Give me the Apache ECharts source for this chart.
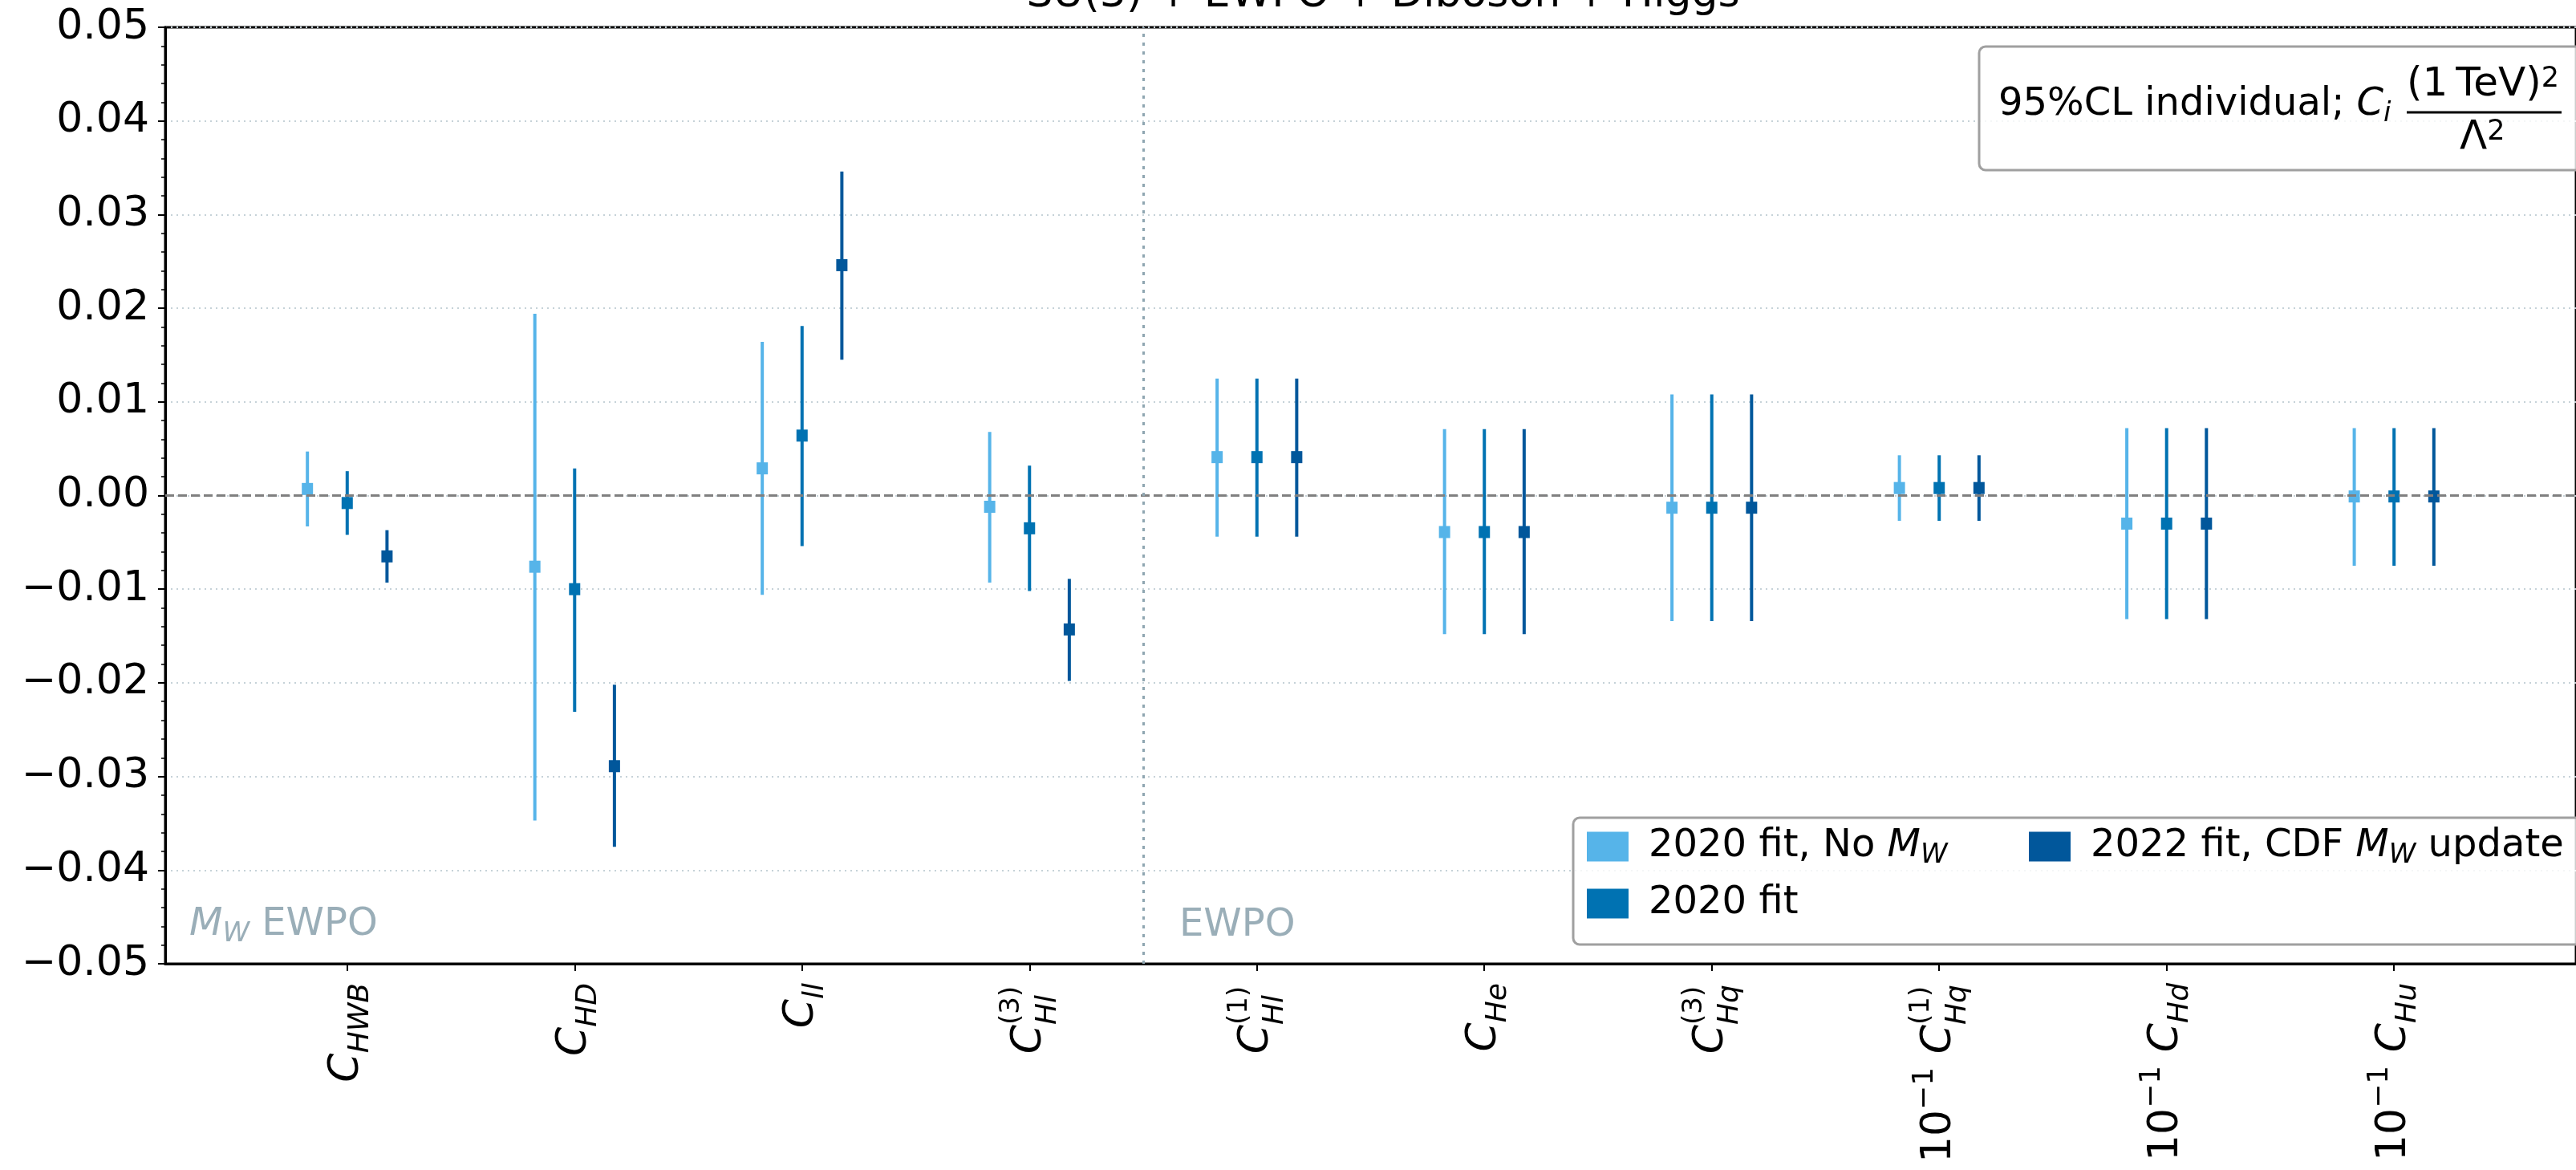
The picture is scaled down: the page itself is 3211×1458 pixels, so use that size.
<!DOCTYPE html>
<html><head><meta charset="utf-8">
<script src="https://cdn.jsdelivr.net/npm/echarts@6/dist/echarts.min.js"></script>
<style>html,body{margin:0;padding:0;background:#fff}#c{width:3211px;height:1458px}</style>
</head><body><div id="c"></div>
<script>
// ---- data ----
const categoryLabels = [
  '{c|C}{s|HWB}',
  '{c|C}{s|HD}',
  '{c|C}{s|ll}',
  '{c|C}{p|(3)}{s2|Hl}',
  '{c|C}{p|(1)}{s2|Hl}',
  '{c|C}{s|He}',
  '{c|C}{p|(3)}{s2|Hq}',
  '{n|10}{e|\u22121}{n| }{c|C}{p|(1)}{s2|Hq}',
  '{n|10}{e|\u22121}{n| }{c|C}{s|Hd}',
  '{n|10}{e|\u22121}{n| }{c|C}{s|Hu}'
];
const seriesNames = ['2020 fit, No MW', '2020 fit', '2022 fit, CDF MW update'];

const noMWCenter = [0.0007, -0.0076, 0.0029, -0.0012, 0.0041, -0.0039, -0.0013, 0.0008, -0.0030, -0.0001];
const noMWLow    = [-0.0033, -0.0347, -0.0106, -0.0093, -0.0044, -0.0148, -0.0134, -0.0027, -0.0132, -0.0075];
const noMWHigh   = [0.0047, 0.0194, 0.0164, 0.0068, 0.0125, 0.0071, 0.0108, 0.0043, 0.0072, 0.0072];

const fit2020Center = [-0.0008, -0.0100, 0.0064, -0.0035, 0.0041, -0.0039, -0.0013, 0.0008, -0.0030, -0.0001];
const fit2020Low    = [-0.0042, -0.0231, -0.0054, -0.0102, -0.0044, -0.0148, -0.0134, -0.0027, -0.0132, -0.0075];
const fit2020High   = [0.0026, 0.0029, 0.0181, 0.0032, 0.0125, 0.0071, 0.0108, 0.0043, 0.0072, 0.0072];

const cdf2022Center = [-0.0065, -0.0289, 0.0246, -0.0143, 0.0041, -0.0039, -0.0013, 0.0008, -0.0030, -0.0001];
const cdf2022Low    = [-0.0093, -0.0375, 0.0145, -0.0198, -0.0044, -0.0148, -0.0134, -0.0027, -0.0132, -0.0075];
const cdf2022High   = [-0.0037, -0.0202, 0.0346, -0.0089, 0.0125, 0.0071, 0.0108, 0.0043, 0.0072, 0.0072];

// ---- styling ----
const F = 'DejaVu Sans';
const colors = ['#56B4E9', '#0072B2', '#01579B'];
const offsets = [-0.175, 0, 0.175];
const centers = [noMWCenter, fit2020Center, cdf2022Center];
const lows = [noMWLow, fit2020Low, cdf2022Low];
const highs = [noMWHigh, fit2020High, cdf2022High];
const catIdx = categoryLabels.map((_, i) => i);

const series = [];
for (let k = 0; k < 3; k++) {
  series.push({
    type: 'custom', name: 'err' + k, z: 2, silent: true,
    encode: { x: 0, y: [1, 2] },
    data: centers[k].map((_, i) => [i + offsets[k], lows[k][i], highs[k][i]]),
    renderItem: (params, api) => {
      const p1 = api.coord([api.value(0), api.value(1)]);
      const p2 = api.coord([api.value(0), api.value(2)]);
      return { type: 'line', shape: { x1: p1[0], y1: p1[1], x2: p2[0], y2: p2[1] },
               style: { stroke: colors[k], lineWidth: 4 } };
    }
  });
}
series.push({
  type: 'line', data: [], z: 3, silent: true,
  markLine: {
    silent: true, symbol: ['none', 'none'], label: { show: false }, animation: false,
    data: [
      { yAxis: 0, lineStyle: { color: '#808080', width: 3, type: [11, 5] } },
      { xAxis: 3.5, lineStyle: { color: '#8fa6b1', width: 3, type: [4, 7] } }
    ]
  }
});
for (let k = 0; k < 3; k++) {
  series.push({
    type: 'scatter', name: seriesNames[k], z: 4, symbol: 'rect', symbolSize: [14, 15],
    itemStyle: { color: colors[k], opacity: 1 },
    data: centers[k].map((c, i) => [i + offsets[k], c])
  });
}

const legendRich = {
  t: { fontFamily: F, fontSize: 48, lineHeight: 56, color: '#000', padding: [0, 0, 0, 20] },
  t2: { fontFamily: F, fontSize: 48, lineHeight: 56, color: '#000' },
  m: { fontFamily: F, fontStyle: 'italic', fontSize: 48, lineHeight: 56, color: '#000' },
  w: { fontFamily: F, fontStyle: 'italic', fontSize: 34, lineHeight: 30, verticalAlign: 'bottom', color: '#000' }
};
const legendText = {
  '2020 fit, No MW': '{t|2020 fit, No }{m|M}{w|W}',
  '2020 fit': '{t|2020 fit}',
  '2022 fit, CDF MW update': '{t|2022 fit, CDF }{m|M}{w|W}{t2| update}'
};
function mkLegend(name, left, top) {
  return {
    data: [{ name: name, icon: 'rect', itemStyle: { opacity: 1 } }], left: left, top: top, padding: 0, z: 10,
    itemWidth: 52, itemHeight: 37, selectedMode: false,
    formatter: n => legendText[n],
    textStyle: { rich: legendRich }
  };
}

const xRich = {
  c: { fontFamily: F, fontStyle: 'italic', fontSize: 52, lineHeight: 60, color: '#000', align: 'left' },
  s: { fontFamily: F, fontStyle: 'italic', fontSize: 36, lineHeight: 40, padding: [34, 0, 0, 0], color: '#000', align: 'left' },
  s2: { fontFamily: F, fontStyle: 'italic', fontSize: 36, lineHeight: 40, padding: [46, 0, 0, 0], width: 52, color: '#000', align: 'left' },
  p: { fontFamily: F, fontSize: 34, lineHeight: 40, padding: [0, 0, 44, 0], width: 0, color: '#000', align: 'left' },
  n: { fontFamily: F, fontSize: 52, lineHeight: 60, color: '#000', align: 'left' },
  e: { fontFamily: F, fontSize: 36, lineHeight: 40, padding: [0, 0, 36, 0], color: '#000', align: 'left' }
};

const option = {
  animation: false,
  backgroundColor: '#fff',
  grid: { left: 206, top: 34, right: -32, bottom: 257, show: true, borderColor: '#000', borderWidth: 3, backgroundColor: 'transparent' },
  xAxis: {
    type: 'value', min: -0.8, max: 9.8,
    axisLine: { show: true, onZero: false, lineStyle: { color: '#000', width: 3 } },
    axisTick: { show: true, customValues: catIdx, length: 9, lineStyle: { color: '#000', width: 2 } },
    splitLine: { show: false },
    axisLabel: {
      show: true, customValues: catIdx, rotate: 90, margin: 24, color: '#000',
      formatter: v => categoryLabels[Math.round(v)],
      rich: xRich
    }
  },
  yAxis: {
    type: 'value', min: -0.05, max: 0.05, interval: 0.01,
    axisLine: { show: true, onZero: false, lineStyle: { color: '#000', width: 3 } },
    axisTick: { show: true, length: 9, lineStyle: { color: '#000', width: 2 } },
    minorTick: { show: true, splitNumber: 5, length: 5, lineStyle: { color: '#000', width: 1.5 } },
    splitLine: { show: true, lineStyle: { color: '#c6d2d8', width: 2, type: [2, 5] } },
    axisLabel: {
      fontFamily: F, fontSize: 52, color: '#000', margin: 20,
      formatter: v => Math.abs(v) < 1e-9 ? '0.00' : (v < 0 ? '\u2212' + Math.abs(v).toFixed(2) : v.toFixed(2))
    }
  },
  legend: [
    mkLegend('2020 fit, No MW', 1978, 1031),
    mkLegend('2020 fit', 1978, 1102),
    mkLegend('2022 fit, CDF MW update', 2529, 1031)
  ],
  graphic: [
    { type: 'text', x: 1724, y: -6, z: 10, style: { text: 'SU(3) + EWPO + Diboson + Higgs', fill: '#000', font: '52px "DejaVu Sans"', textAlign: 'center', verticalAlign: 'middle' } },
    { type: 'rect', z: 9, shape: { x: 1961, y: 1019, width: 1400, height: 158, r: 8 }, style: { fill: 'rgba(255,255,255,0.8)', stroke: '#a0a0a0', lineWidth: 3 } },
    { type: 'rect', z: 9, shape: { x: 2467, y: 58, width: 900, height: 154, r: 8 }, style: { fill: 'rgba(255,255,255,0.8)', stroke: '#a0a0a0', lineWidth: 3 } },
    { type: 'text', x: 2491, y: 131, z: 10, style: { text: '95%CL individual; {ci|C}{cs|i}', fill: '#000', font: '48px "DejaVu Sans"', verticalAlign: 'middle',
      rich: { ci: { fontFamily: F, fontStyle: 'italic', fontSize: 48, lineHeight: 56 }, cs: { fontFamily: F, fontStyle: 'italic', fontSize: 34, lineHeight: 30, verticalAlign: 'bottom' } } } },
    { type: 'text', x: 3000, y: 106, z: 10, style: { text: '(1\u2009TeV){sp|2}', fill: '#000', font: '50px "DejaVu Sans"', verticalAlign: 'middle',
      rich: { sp: { fontFamily: F, fontSize: 35, lineHeight: 26, verticalAlign: 'top' } } } },
    { type: 'line', z: 10, shape: { x1: 3000, y1: 140, x2: 3193, y2: 140 }, style: { stroke: '#000', lineWidth: 3 } },
    { type: 'text', x: 3066, y: 172, z: 10, style: { text: '\u039B{sp|2}', fill: '#000', font: '50px "DejaVu Sans"', verticalAlign: 'middle',
      rich: { sp: { fontFamily: F, fontSize: 35, lineHeight: 26, verticalAlign: 'top' } } } },
    { type: 'text', x: 236, y: 1153, z: 10, style: { text: '{m|M}{w|W}{t| EWPO}', fill: '#9aaeb8', verticalAlign: 'middle',
      rich: { m: { fontFamily: F, fontStyle: 'italic', fontSize: 48, lineHeight: 56, fill: '#9aaeb8' }, w: { fontFamily: F, fontStyle: 'italic', fontSize: 34, lineHeight: 30, verticalAlign: 'bottom', fill: '#9aaeb8' }, t: { fontFamily: F, fontSize: 48, lineHeight: 56, fill: '#9aaeb8' } } } },
    { type: 'text', x: 1470, y: 1154, z: 10, style: { text: 'EWPO', fill: '#9aaeb8', font: '48px "DejaVu Sans"', verticalAlign: 'middle' } }
  ],
  series: series
};
const chart = echarts.init(document.getElementById('c'), null, { renderer: 'canvas' });
chart.setOption(option);
</script>
</body></html>
